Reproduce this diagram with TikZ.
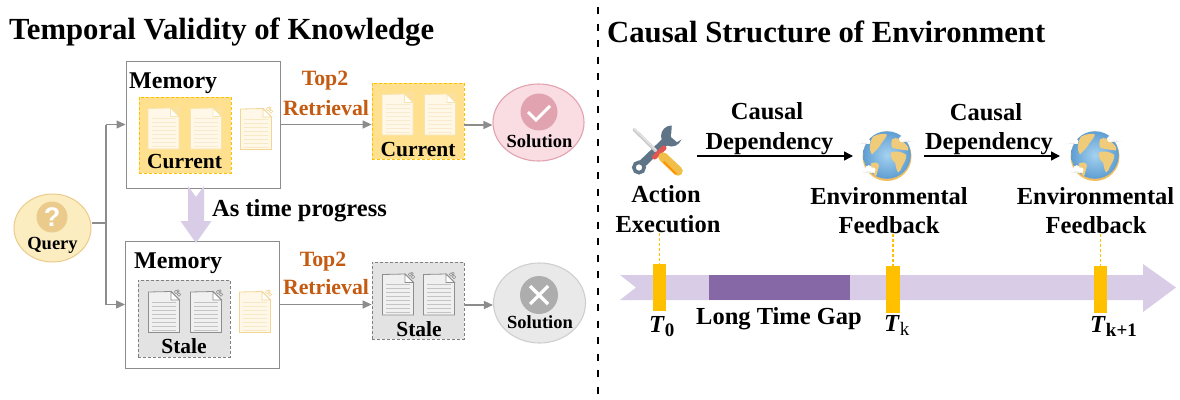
\documentclass[tikz,border=0pt]{standalone}
\usepackage{fontspec}
\setmainfont{Liberation Serif}
\newfontfamily\qfont{Liberation Sans}
\usetikzlibrary{arrows.meta,calc,shapes.geometric}
\definecolor{gline}{HTML}{8C8C8C}
\definecolor{orangeT}{HTML}{C55A11}
\definecolor{curfill}{HTML}{FFE08F}
\definecolor{curdash}{HTML}{FFC000}
\definecolor{stfill}{HTML}{E3E3E3}
\definecolor{stdash}{HTML}{7F7F7F}
\definecolor{lilac}{HTML}{D8CCE6}
\definecolor{deep}{HTML}{8768A6}
\definecolor{wrenchc}{HTML}{5F7486}
\definecolor{handle}{HTML}{F2BE4A}
\definecolor{collar}{HTML}{E2564F}
\definecolor{landc}{HTML}{F0CC7A}
\definecolor{seac}{HTML}{A5D2F0}
\definecolor{seadark}{HTML}{5F9ED2}
\definecolor{pageC}{HTML}{FFF8E8}
\definecolor{edgeC}{HTML}{F7E3AE}
\definecolor{lineC}{HTML}{F8EBCD}
\definecolor{edgeF}{HTML}{F3D696}
\definecolor{lineF}{HTML}{F8E9C6}
\definecolor{pageS}{HTML}{F0F0F0}
\definecolor{edgeS}{HTML}{8E8E8E}
\definecolor{lineS}{HTML}{C4C4C4}
\definecolor{solF}{HTML}{F9DDE3}
\definecolor{solD}{HTML}{E2A3B0}
\definecolor{gsolF}{HTML}{E9E9E9}
\definecolor{gsolD}{HTML}{CFCFCF}
\definecolor{gsolI}{HTML}{ADADAD}
\definecolor{qF}{HTML}{FBEDC0}
\definecolor{qD}{HTML}{EBCB8B}
\tikzset{
 x=1pt,y=-1pt,
 membox/.style={draw=gline,line width=1pt,fill=white,inner sep=0,minimum width=154pt,minimum height=127pt},
 curbox/.style={draw=curdash,densely dashed,line width=.8pt,fill=curfill,inner sep=0,minimum width=92pt,minimum height=76pt},
 stbox/.style={draw=stdash,densely dashed,line width=.8pt,fill=stfill,inner sep=0,minimum width=92pt,minimum height=77pt},
 lab/.style={font=\fontsize{24}{24}\selectfont\bfseries,inner sep=0},
 sublab/.style={font=\fontsize{21.5}{22}\selectfont\bfseries,inner sep=0},
 retr/.style={font=\fontsize{21.8}{22}\selectfont\bfseries,text=orangeT,inner sep=0},
 sol/.style={font=\fontsize{18.5}{19}\selectfont\bfseries,inner sep=0},
 ttl/.style={font=\fontsize{30.7}{31}\selectfont\bfseries,inner sep=0,anchor=west},
 big/.style={font=\fontsize{24.5}{25}\selectfont\bfseries,inner sep=0},
 garrow/.style={draw=gline,line width=1.3pt,-{Triangle[length=9pt,width=8pt]}},
 gline0/.style={draw=gline,line width=1.2pt},
 barrow/.style={draw=black,line width=1.4pt,-{Triangle[length=9pt,width=9pt]}},
 tdash/.style={draw=curdash,densely dashed,line width=1.1pt},
 tbar/.style={fill=curdash,inner sep=0,minimum width=13.5pt,minimum height=47pt},
 solell/.style={ellipse,inner sep=0,line width=1.1pt,minimum width=90pt,minimum height=78pt},
}
\newcommand{\docicon}[5]{%
 \begin{scope}[shift={(#1,#2)}]
  \fill[#3,draw=#4,line width=.8pt] (-15.5,-20) -- (7,-20.5) -- (15.5,-12) -- (15.5,20.5) -- (-15.5,20.5) -- cycle;
  \foreach \yy in {-10,-6,...,18}{\draw[#5,line width=.5pt] (-12,\yy) -- (12,\yy);}
  \fill[white,draw=#4,line width=.8pt] (7,-20.5) -- (7,-12) -- (15.5,-12) -- cycle;
  \draw[#4,line width=.55pt] (12,-20) circle (1.7) (15,-17.5) circle (1.7) (14,-21) circle (1.3);
 \end{scope}}
\newcommand{\curdoc}[2]{\docicon{#1}{#2}{pageC}{edgeC}{lineC}}
\newcommand{\fadedoc}[2]{\docicon{#1}{#2}{pageC}{edgeF}{lineF}}
\newcommand{\stdoc}[2]{\docicon{#1}{#2}{pageS}{edgeS}{lineS}}
\newcommand{\globe}[2]{%
 \begin{scope}[shift={(#1,#2)}]
  \fill[landc!80!orange] (0,1) circle (24.5);
  \shade[inner color=seac,outer color=seadark] (0,-0.5) circle (23.8);
  % north america
  \fill[landc] (-14,-19) .. controls (-8,-22) and (-3,-22) .. (0,-21) .. controls (-1,-17) and (-5,-14) .. (-7,-10) .. controls (-9,-7) and (-12,-4) .. (-15,-1) .. controls (-18,-5) and (-18,-12) .. (-14,-19) -- cycle;
  % south america
  \fill[landc] (-16,8) .. controls (-12,6) and (-9,7) .. (-8,10) .. controls (-9,14) and (-10,18) .. (-11,21) .. controls (-14,19) and (-17,12) .. (-16,8) -- cycle;
  % eurasia
  \fill[landc] (5,-16) .. controls (9,-19) and (13,-17) .. (18,-12) .. controls (21,-9) and (22,-7) .. (21,-5) .. controls (15,-6) and (9,-6) .. (5,-8) .. controls (4,-11) and (4,-13) .. (5,-16) -- cycle;
  % africa
  \fill[landc] (4,-3) .. controls (8,-5) and (14,-4) .. (19,-1) .. controls (20,3) and (17,7) .. (15,11) .. controls (14,14) and (13,16) .. (11,17) .. controls (9,14) and (9,10) .. (8,7) .. controls (5,5) and (3,1) .. (4,-3) -- cycle;
  \foreach \a/\b/\s in {-27/-14/.8,15/-16.5/1,-22.5/14.5/.85}{
   \fill[black!8] (\a-2*\s,\b+.5) rectangle (\a+12*\s,\b+3.4*\s);
   \fill[white] (\a,\b) circle ({3*\s}) ++(5*\s,-1.8*\s) circle ({3.8*\s}) ++(5*\s,1.8*\s) circle ({3*\s});
  }
 \end{scope}}
\begin{document}
\begin{tikzpicture}
\useasboundingbox (0,0) rectangle (1180,399);
\fill[white] (0,0) rectangle (1180,399);
% titles and divider
\node[ttl] (t1) at (9,32) {Temporal Validity of Knowledge};
\node[ttl] (t2) at (607,32) {Causal Structure of Environment};
\coordinate (da) at (597.7,7); \coordinate (db) at (597.7,399);
\draw[black,line width=1.9pt,dash pattern=on 7pt off 9.5pt] (da) -- (db);
% memory boxes
\node[membox] (m1) at (203,124.5) {};
\node[membox] (m2) at (202.5,304.5) {};
\node[curbox] (c1) at (185,135) {};
\node[stbox] (s1) at (184,318.5) {};
\curdoc{163.5}{128.5} \curdoc{206}{128.5} \fadedoc{256}{129}
\stdoc{164}{312} \stdoc{206}{312} \fadedoc{255}{312}
\node[lab,anchor=west] (lm1) at (129,83.5) {Memory};
\node[lab,anchor=west] (lm2) at (134,263.5) {Memory};
\node[sublab] (lc1) at (184.5,161.5) {Current};
\node[sublab] (ls1) at (184,346) {Stale};
% retrieved boxes
\node[curbox] (r1) at (418,121) {};
\node[stbox] (r2) at (418,300.5) {};
\curdoc{397.5}{114.5} \curdoc{440}{114.5}
\stdoc{398}{294.5} \stdoc{439}{294.5}
\node[sublab] (lr1) at (418,149.5) {Current};
\node[sublab] (lr2) at (419,329) {Stale};
% solution ellipses
\node[solell,draw=solD,fill=solF,minimum width=91pt,minimum height=77pt] (e1) at (538.5,122.5) {};
\node[solell,draw=gsolD,fill=gsolF,minimum width=92pt,minimum height=80pt] (e2) at (539.5,303) {};
\fill[solD] (539,112) circle (18.5);
\fill[gsolI] (539,295) circle (19);
\draw[white,line width=3pt,line join=miter] (528,112) -- (536,120) -- (550,106);
\draw[white,line width=3.2pt] (530,286) -- (548,304) (548,286) -- (530,304);
\node[sol] (ls1t) at (539.5,141) {Solution};
\node[sol] (ls2t) at (540,322) {Solution};
% query
\node[ellipse,draw=qD,line width=1pt,fill=qF,inner sep=0,minimum width=77pt,minimum height=68pt] (q) at (52.5,228) {};
\fill[qD] (52,217) circle (15.5);
\node[inner sep=0,text=white,font=\qfont\fontsize{27}{27}\selectfont\bfseries] (qm) at (52,217) {?};
\node[sol] (ql) at (52.5,245) {Query};
% connectors on the left
\coordinate (jq) at (106,223);
\coordinate (jt) at (106,124.5);
\coordinate (jb) at (106,304.5);
\draw[gline0] ([yshift=5pt]q.east) -- (jq);
\draw[gline0] (jt) -- (jb);
\draw[garrow] (jt) -- (m1.west);
\draw[garrow] (jb) -- (m2.west);
\draw[garrow] (m1.east) -- (m1.east -| r1.west);
\draw[garrow] (m2.east) -- (m2.east -| r2.west);
\draw[garrow] ([yshift=-4pt]r1.east) -- ([yshift=-4pt]r1.east -| e1.west);
\draw[garrow] ([yshift=-4.5pt]r2.east) -- ([yshift=-4.5pt]r2.east -| e2.west);
\node[retr] (tp1) at (325,81) {Top2};
\node[retr] (re1) at (326,108) {Retrieval};
\node[retr] (tp2) at (323,262) {Top2};
\node[retr] (re2) at (326,287) {Retrieval};
% time block arrow
\fill[lilac] (188,186) -- (196,197) -- (204,186) -- (204,221) -- (211.5,221) -- (196,243) -- (180.5,221) -- (188,221) -- cycle;
\node[big,anchor=west] (prog) at (212,210.5) {As time progress};
% timeline
\fill[lilac] (620,275) -- (1143,275) -- (1143,264) -- (1176,287.5) -- (1143,312) -- (1143,300) -- (620,300) -- (636,287.5) -- cycle;
\fill[deep] (708.5,275) rectangle (850,300);
\node[tbar] (b0) at (659.5,287.5) {};
\node[tbar] (bk) at (893,289.5) {};
\node[tbar] (bk1) at (1100.5,289.5) {};
% upper right labels
\node[big] (a1) at (666,194.5) {Action};
\node[big] (a2) at (668,224.5) {Execution};
\node[big] (f1) at (889,196) {Environmental};
\node[big] (f2) at (889,225) {Feedback};
\node[big] (g1) at (1095.5,196) {Environmental};
\node[big] (g2) at (1096,225) {Feedback};
\node[big] (c11) at (767,111) {Causal};
\node[big] (c12) at (769.5,143.5) {Dependency};
\node[big] (c21) at (986,112) {Causal};
\node[big] (c22) at (989,143.5) {Dependency};
\draw[tdash] (a2.south -| b0.north) -- (b0.north);
\draw[tdash] (f2.south -| bk.north) -- (bk.north);
\draw[tdash] (g2.south -| bk1.north) -- (bk1.north);
% tools icon
\draw[wrenchc,line width=8pt] (642,164) -- (668,139);
\draw[wrenchc,line width=3.6pt] (639,167.5) circle (5.2);
\fill[wrenchc] (671.5,136) circle (10.5);
\fill[white] (671,137) -- (682,126) -- (687,136) -- (677,142) -- cycle;
\fill[white] (671,137) -- (672,123) -- (678,125) -- (682,130) -- cycle;
\draw[black!20,line width=3.4pt,line cap=round] (634,129.5) -- (656,151);
\draw[black!10,line width=1.2pt,line cap=round] (634,128.5) -- (656,150);
\draw[collar,line width=5pt,line cap=round] (654.5,157) -- (664,148);
\draw[handle,line width=9.5pt,line cap=round] (663,157) -- (678,171);
\draw[orange!85!yellow,line width=2pt,line cap=round] (664,162) -- (676,174);
% globes
\globe{887}{155.5}
\globe{1095}{155.5}
% black arrows
\coordinate (ca) at (697,156);
\coordinate (cb) at (853,156);
\coordinate (cc) at (924,156);
\coordinate (cd) at (1060,156);
\draw[barrow] (ca) -- (cb);
\draw[barrow] (cc) -- (cd);
% timeline labels
\node[big] (gap) at (779,318.5) {Long Time Gap};
\node[big,anchor=west] (l0) at (649,327) {\textit{T}\raisebox{-4pt}{\fontsize{19}{19}\selectfont 0}};
\node[big,anchor=west] (lk) at (884,325) {\textit{T}\raisebox{-4pt}{\fontsize{19}{19}\selectfont\mdseries k}};
\node[big,anchor=west] (lk1) at (1090,326) {\textit{T}\raisebox{-4pt}{\fontsize{19}{19}\selectfont k+1}};
\end{tikzpicture}
\end{document}
